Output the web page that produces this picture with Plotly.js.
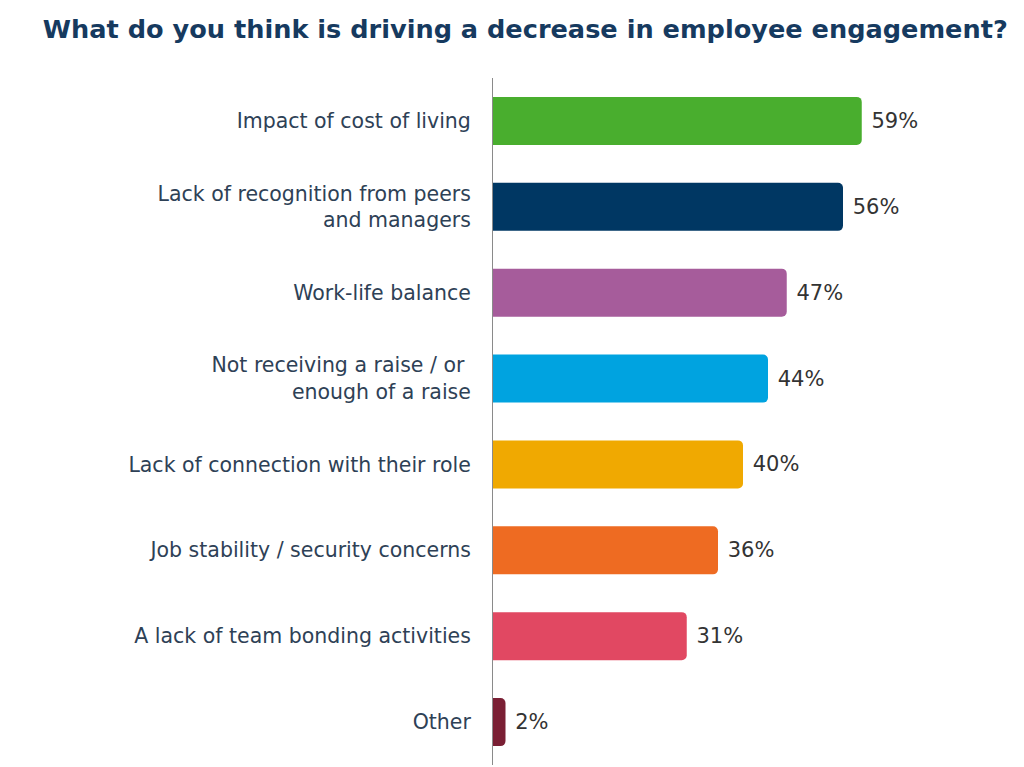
<!DOCTYPE html>
<html>
<head>
<meta charset="utf-8">
<script src="https://cdn.plot.ly/plotly-3.0.1.min.js"></script>
<style>html,body{margin:0;padding:0;background:#fff;}#chart{width:1024px;height:767px;}</style>
</head>
<body>
<div id="chart"></div>
<script>
const categories = [
  "Impact of cost of living",
  "Lack of recognition from peers<br>and managers",
  "Work-life balance",
  "Not receiving a raise / or <br>enough of a raise",
  "Lack of connection with their role",
  "Job stability / security concerns",
  "A lack of team bonding activities",
  "Other"
];
const values = [59, 56, 47, 44, 40, 36, 31, 2];
const colors = ["#49ae2e", "#003763", "#a65c9b", "#00a3e0", "#f0a901", "#ee6b22", "#e14862", "#7a1f34"];
const valueLabels = values.map(v => " " + v + "%");

const trace = {
  type: "bar",
  orientation: "h",
  x: values,
  y: categories,
  marker: {color: colors, cornerradius: 5},
  width: 0.56,
  text: valueLabels,
  textposition: "outside",
  textfont: {family: "DejaVu Sans", size: 21, color: "#333333"},
  cliponaxis: false,
  hoverinfo: "skip"
};

const layout = {
  width: 1024,
  height: 767,
  margin: {l: 493, r: 31, t: 78, b: 2},
  paper_bgcolor: "#ffffff",
  plot_bgcolor: "#ffffff",
  showlegend: false,
  title: {
    text: "<b>What do you think is driving a decrease in employee engagement?</b>",
    font: {family: "DejaVu Sans", size: 25.6, color: "#163a5f"},
    x: 0.513, xanchor: "center", y: 0.962, yanchor: "middle"
  },
  xaxis: {
    range: [0, 80],
    visible: false,
    fixedrange: true
  },
  yaxis: {
    autorange: "reversed",
    showline: true,
    linecolor: "#8a8a8a",
    linewidth: 1,
    showgrid: false,
    zeroline: false,
    ticks: "",
    ticklabelstandoff: 17,
    tickfont: {family: "DejaVu Sans", size: 20.5, color: "#2e4156"},
    fixedrange: true
  },
  bargap: 0.44
};

Plotly.newPlot("chart", [trace], layout, {displayModeBar: false, staticPlot: true});
</script>
</body>
</html>
